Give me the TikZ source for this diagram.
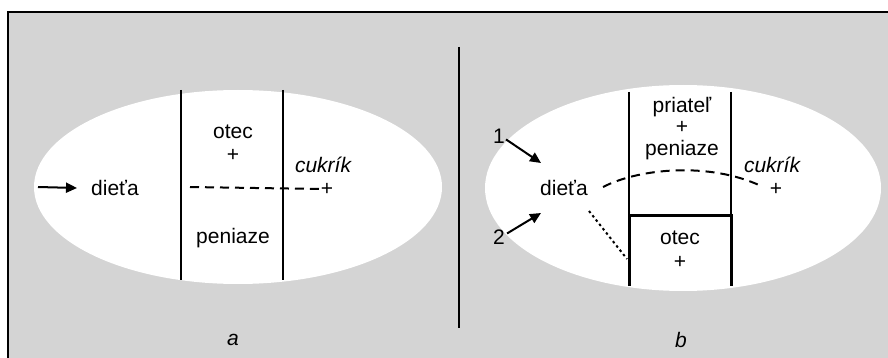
\documentclass[tikz,border=0pt]{standalone}
\usepackage{fontspec}
\setmainfont{Liberation Sans}
\usetikzlibrary{arrows.meta}
\begin{document}
\begin{tikzpicture}[x=1pt,y=-1pt,
  lbl/.style={inner sep=0pt,font=\fontsize{21}{23}\selectfont},
  ilbl/.style={lbl,font=\fontsize{21}{23}\selectfont\itshape},
  thinln/.style={line width=1.2pt},
  boxln/.style={line width=3pt},
  arr/.style={line width=2pt,-{Triangle[length=11pt,width=10pt]}},
  dashln/.style={line width=2pt,dash pattern=on 9pt off 6pt},
  dotln/.style={line width=2pt,dash pattern=on 2.5pt off 3pt}]
\useasboundingbox (0,0) rectangle (888,358);
% background
\fill[black!17] (8,12) rectangle (888,358);
\draw[line width=1.2pt] (8,358) -- (8,12) -- (888,12);
% ellipses
\fill[white] (238,187) ellipse [x radius=204, y radius=97];
\fill[white] (683,188) ellipse [x radius=198, y radius=103];
% separator
\draw[line width=2.4pt] (459,47) -- (459,328);

% ---------- panel a ----------
\coordinate (a1t) at (181,90); \coordinate (a1b) at (181,280);
\coordinate (a2t) at (283,90); \coordinate (a2b) at (283,280);
\draw[thinln] (a1t) -- (a1b);
\draw[thinln] (a2t) -- (a2b);
\node[lbl] (adieta) at (115,188) {dieťa};
\coordinate (astart) at (38,187);
\draw[arr] (astart) -- (adieta.west -| 77,0);
\node[lbl] (aotec) at (233,132) {otec};
\node[lbl] (aotecp) at (233,155) {+};
\node[ilbl] (acukrik) at (323,165) {cukrík};
\node[lbl] (acukp) at (327,189) {+};
\node[lbl] (apeniaze) at (233,238) {peniaze};
\coordinate (adash) at (190,187);
\draw[dashln] (adash) -- (acukp.west);
\node[ilbl] (alab) at (233,340) {a};

% ---------- panel b ----------
\coordinate (b1t) at (629,92); \coordinate (b1b) at (629,215);
\coordinate (b2t) at (731,92); \coordinate (b2b) at (731,215);
\draw[thinln] (b1t) -- (b1b);
\draw[thinln] (b2t) -- (b2b);
\coordinate (bx1) at (629,286); \coordinate (bx2) at (731,286);
\draw[boxln] (bx1) -- (b1b) -- (b2b) -- (bx2);
\node[lbl] (bpriatel) at (682,107) {priateľ};
\node[lbl] (bplus1) at (682,127) {+};
\node[lbl] (bpeniaze) at (682,150) {peniaze};
\node[ilbl] (bcukrik) at (772,165) {cukrík};
\node[lbl] (bcukp) at (776,189) {+};
\node[lbl] (bdieta) at (564,188) {dieťa};
\node[lbl] (botec) at (680,238) {otec};
\node[lbl] (botecp) at (680,262) {+};
\node[ilbl] (blab) at (681,340) {b};
\node[lbl] (bone) at (499,136) {1};
\node[lbl] (btwo) at (499,237) {2};
\coordinate (ar1e) at (541,163);
\coordinate (ar2e) at (541,213);
\draw[arr] (bone.south east) ++(1,-4) -- (ar1e);
\draw[arr] (btwo.north east) ++(2,4) -- (ar2e);
\coordinate (bdstart) at (603,187);
\coordinate (bdend) at (761,186);
\draw[dashln] (bdstart) .. controls (640,168) and (710,162) .. (bdend);
\coordinate (bdot1) at (589,211);
\coordinate (bdot2) at (627,259);
\draw[dotln] (bdot1) -- (bdot2);
\end{tikzpicture}
\end{document}
